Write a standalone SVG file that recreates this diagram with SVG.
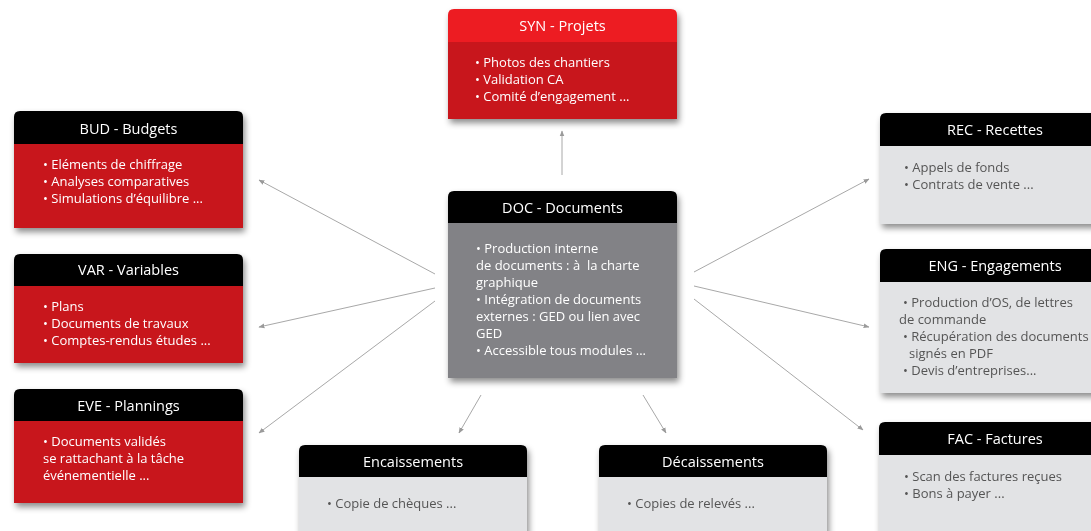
<svg xmlns="http://www.w3.org/2000/svg" width="1091" height="531" viewBox="0 0 1091 531">
<defs>
<filter id="sh" x="-10%" y="-10%" width="125%" height="130%">
<feDropShadow dx="2" dy="4" stdDeviation="3" flood-color="#000" flood-opacity="0.45"/>
</filter>
<marker id="ah" viewBox="0 0 10 10" refX="9" refY="5" markerWidth="6" markerHeight="6" orient="auto" markerUnits="userSpaceOnUse">
<path d="M0,1 L10,5 L0,9 Z" fill="#9a9a9a"/>
</marker>
<style>
.t{font-family:"Open Sans","Liberation Sans",sans-serif;font-size:14.5px;fill:#fff;text-anchor:middle}
.b{font-family:"Open Sans","Liberation Sans",sans-serif;font-size:13px;fill:#fff;white-space:pre}
.g{font-family:"Open Sans","Liberation Sans",sans-serif;font-size:13px;fill:#555}
.hd{fill:#000}
.red{fill:#c8161e}
.lt{fill:#e2e3e5}
.dk{fill:#828286}
.box{filter:url(#sh)}
.c{stroke:#a8a8a8;stroke-width:1;fill:none;marker-end:url(#ah)}
</style>
</defs>
<rect width="1091" height="531" fill="#fff"/>

<g id="connectors">
<line class="c" x1="562" y1="175" x2="562" y2="131"/>
<line class="c" x1="435" y1="274" x2="259" y2="180"/>
<line class="c" x1="435" y1="288" x2="259" y2="327"/>
<line class="c" x1="435" y1="301" x2="259" y2="433"/>
<line class="c" x1="694" y1="272" x2="869" y2="179"/>
<line class="c" x1="694" y1="286" x2="869" y2="327"/>
<line class="c" x1="694" y1="299" x2="863" y2="430"/>
<line class="c" x1="481" y1="395" x2="459" y2="433"/>
<line class="c" x1="643" y1="395" x2="666" y2="433"/>
</g>

<g id="syn" class="box">
<path d="M448,42 V15 Q448,9 454,9 H671 Q677,9 677,15 V42 Z" fill="#ed1c24"/>
<rect x="448" y="42" width="229" height="77" class="red"/>
<text class="t" x="562.5" y="31">SYN - Projets</text>
<text class="b" x="475" y="67">• Photos des chantiers</text>
<text class="b" x="475" y="84">• Validation CA</text>
<text class="b" x="475" y="101">• Comité d’engagement ...</text>
</g>

<g id="bud" class="box">
<path d="M14,144 V117 Q14,111 20,111 H237 Q243,111 243,117 V144 Z" class="hd"/>
<rect x="14" y="144" width="229" height="84" class="red"/>
<text class="t" x="128.5" y="134">BUD - Budgets</text>
<text class="b" x="43" y="169">• Eléments de chiffrage</text>
<text class="b" x="43" y="186">• Analyses comparatives</text>
<text class="b" x="43" y="203">• Simulations d’équilibre ...</text>
</g>

<g id="var" class="box">
<path d="M14,286 V260 Q14,254 20,254 H237 Q243,254 243,260 V286 Z" class="hd"/>
<rect x="14" y="286" width="229" height="77" class="red"/>
<text class="t" x="128.5" y="275">VAR - Variables</text>
<text class="b" x="43" y="311">• Plans</text>
<text class="b" x="43" y="328">• Documents de travaux</text>
<text class="b" x="43" y="345">• Comptes-rendus études ...</text>
</g>

<g id="eve" class="box">
<path d="M14,421 V395 Q14,389 20,389 H237 Q243,389 243,395 V421 Z" class="hd"/>
<rect x="14" y="421" width="229" height="82" class="red"/>
<text class="t" x="128.5" y="411">EVE - Plannings</text>
<text class="b" x="43" y="446">• Documents validés</text>
<text class="b" x="43" y="463">se rattachant à la tâche</text>
<text class="b" x="43" y="480">événementielle ...</text>
</g>

<g id="doc" class="box">
<path d="M448,223 V197 Q448,191 454,191 H671 Q677,191 677,197 V223 Z" class="hd"/>
<rect x="448" y="223" width="229" height="155" class="dk"/>
<text class="t" x="562.5" y="213">DOC - Documents</text>
<text class="b" x="476" y="253">• Production interne</text>
<text class="b" x="476" y="270">de documents : à&#160; la charte</text>
<text class="b" x="476" y="287">graphique</text>
<text class="b" x="476" y="304">• Intégration de documents</text>
<text class="b" x="476" y="321">externes : GED ou lien avec</text>
<text class="b" x="476" y="338">GED</text>
<text class="b" x="476" y="355">• Accessible tous modules ...</text>
</g>

<g id="rec" class="box">
<path d="M880,146 V119 Q880,113 886,113 H1104 Q1110,113 1110,119 V146 Z" class="hd"/>
<rect x="880" y="146" width="230" height="78" class="lt"/>
<text class="t" x="995" y="135">REC - Recettes</text>
<text class="g" x="904" y="172">• Appels de fonds</text>
<text class="g" x="904" y="189">• Contrats de vente ...</text>
</g>

<g id="eng" class="box">
<path d="M880,282 V255 Q880,249 886,249 H1104 Q1110,249 1110,255 V282 Z" class="hd"/>
<rect x="880" y="282" width="230" height="111" class="lt"/>
<text class="t" x="995" y="271">ENG - Engagements</text>
<text class="g" x="903" y="307">• Production d’OS, de lettres</text>
<text class="g" x="899" y="324">de commande</text>
<text class="g" x="903" y="341">• Récupération des documents</text>
<text class="g" x="909" y="358">signés en PDF</text>
<text class="g" x="903" y="375">• Devis d’entreprises...</text>
</g>

<g id="fac" class="box">
<path d="M879,455 V428 Q879,422 885,422 H1103 Q1109,422 1109,428 V455 Z" class="hd"/>
<rect x="879" y="455" width="230" height="90" class="lt"/>
<text class="t" x="995" y="444">FAC - Factures</text>
<text class="g" x="904" y="481">• Scan des factures reçues</text>
<text class="g" x="904" y="498">• Bons à payer ...</text>
</g>

<g id="enc" class="box">
<path d="M299,477 V451 Q299,445 305,445 H521 Q527,445 527,451 V477 Z" class="hd"/>
<rect x="299" y="477" width="228" height="70" class="lt"/>
<text class="t" x="413" y="467">Encaissements</text>
<text class="g" x="327" y="508">• Copie de chèques ...</text>
</g>

<g id="dec" class="box">
<path d="M599,477 V451 Q599,445 605,445 H821 Q827,445 827,451 V477 Z" class="hd"/>
<rect x="599" y="477" width="228" height="70" class="lt"/>
<text class="t" x="713" y="467">Décaissements</text>
<text class="g" x="627" y="508">• Copies de relevés ...</text>
</g>
</svg>
